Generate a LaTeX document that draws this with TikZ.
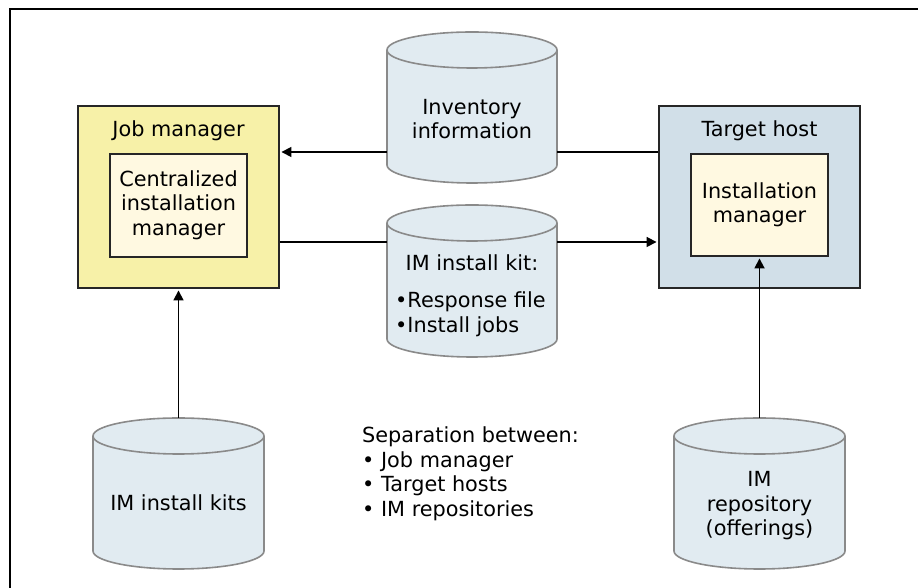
\documentclass[tikz,border=0pt]{standalone}
\usepackage{fontspec}
\setmainfont{DejaVu Sans}
\usetikzlibrary{arrows.meta,calc}
\definecolor{jmfill}{HTML}{F7F1A8}
\definecolor{innerfill}{HTML}{FFF9E1}
\definecolor{thfill}{HTML}{D1DFE8}
\definecolor{cylfill}{HTML}{E1EBF1}
\definecolor{cylline}{HTML}{8A8A8A}
\newcommand{\mycyl}[5]{% name, xcenter, rx, ytop, ybot
  \pgfmathsetmacro{\ry}{18}
  \filldraw[cylst] (#2-#3,#4-\ry) -- (#2-#3,#5+\ry)
     arc[start angle=180,end angle=360,x radius=#3,y radius=\ry]
     -- (#2+#3,#4-\ry)
     arc[start angle=0,end angle=180,x radius=#3,y radius=\ry] -- cycle;
  \draw[cylst,fill=none] (#2-#3,#4-\ry)
     arc[start angle=180,end angle=360,x radius=#3,y radius=\ry];
  \node[inner sep=0pt,minimum width=2*#3,minimum height=#4-#5] (#1) at (#2,{(#4+#5)/2}) {};
}
\begin{document}
\begin{tikzpicture}[x=1pt,y=1pt,
  font=\fontsize{20.8}{24.5}\selectfont,
  cylst/.style={draw=cylline,fill=cylfill,line width=1.6pt},
  outerbox/.style={draw=black!85,line width=1.9pt,inner sep=0pt,minimum width=201pt,minimum height=182pt},
  innerbox/.style={draw=black!85,line width=1.9pt,fill=innerfill,inner sep=0pt,minimum width=137pt,minimum height=103pt},
  txt/.style={inner sep=0pt,align=center},
  conn/.style={line width=1.7pt,black},
  arr/.style={conn,-{Triangle[length=10pt,width=10pt]},shorten >=1.5pt}]
\useasboundingbox (0,0) rectangle (918,588);
% frame
\coordinate (ftr) at (918,579);
\coordinate (fc) at (10,579);
\coordinate (fbl) at (10,0);
\draw[line width=1.2pt] (ftr) -- (fc) -- (fbl);
% boxes
\node[outerbox,fill=jmfill] (jm) at (178.5,391) {};
\node[innerbox] (jmin) at (178.5,382.5) {};
\node[outerbox,fill=thfill] (th) at (759.5,391) {};
\node[innerbox,minimum height=102pt] (thin) at (759.5,383) {};
\node[txt,anchor=base] (jmlab) at (178.5,451) {Job manager};
\node[txt] (jmtxt) at (178.5,383) {Centralized\\installation\\manager};
\node[txt,anchor=base] (thlab) at (759.5,451) {Target host};
\node[txt] (thtxt) at (759.5,383) {Installation\\manager};
% cylinders
\mycyl{inv}{472}{85}{556}{405}
\mycyl{kit}{472}{85}{383}{231}
\mycyl{kits}{178.5}{85.5}{170}{19}
\mycyl{repo}{759.5}{85.5}{170}{19}
\node[txt] (invtxt) at (472,469) {Inventory\\information};
\node[txt,anchor=base] (kittxt) at (472,317) {IM install kit:};
\node[txt,align=left,anchor=north west] (kitlist) at (395,296) {•Response file\\•Install jobs};
\node[txt,anchor=base] (kitstxt) at (178.5,77) {IM install kits};
\node[txt] (repotxt) at (759.5,82) {IM\\repository\\(offerings)};
\node[txt,align=left,anchor=north west] (sep) at (362,161) {Separation between:\\• Job manager\\• Target hosts\\• IM repositories};
% connectors
\coordinate (ja) at ([yshift=45pt]jm.east);
\coordinate (jb) at ([yshift=-45pt]jm.east);
\coordinate (ta) at ([yshift=45pt]th.west);
\coordinate (tb) at ([yshift=-45pt]th.west);
\draw[arr] (inv.west |- ja) -- (ja);
\draw[conn] (ta) -- (inv.east |- ta);
\draw[conn] (jb) -- (kit.west |- jb);
\draw[arr] (kit.east |- tb) -- (tb);
\draw[arr] (kits.north) -- (jm.south);
\draw[arr] (repo.north) -- (thin.south);
\end{tikzpicture}
\end{document}
